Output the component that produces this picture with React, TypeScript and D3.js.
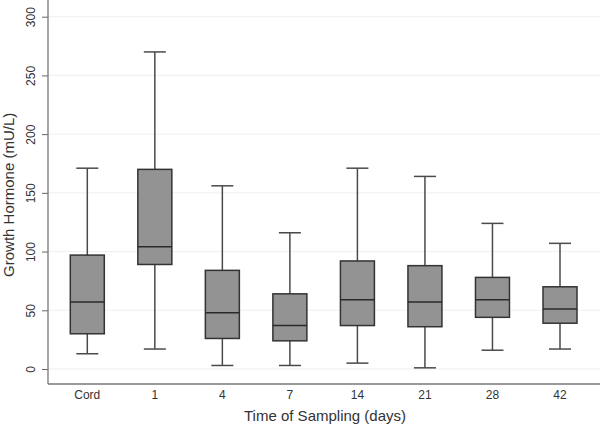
import React, { useEffect, useRef } from "react";
import * as d3 from "d3";

// sampling times (x categories)
const categories = ["Cord", "1", "4", "7", "14", "21", "28", "42"];
// five number summaries (mU/L)
const lowWhisker = [13, 17, 3, 3, 5, 1, 16, 17];
const q1 = [30, 89, 26, 24, 37, 36, 44, 39];
const median = [57, 104, 48, 37, 59, 57, 59, 51];
const q3 = [97, 170, 84, 64, 92, 88, 78, 70];
const highWhisker = [171, 270, 156, 116, 171, 164, 124, 107];
const yTicks = [0, 50, 100, 150, 200, 250, 300];

const W = 600;
const H = 426;
const FONT = "'Liberation Sans', Arial, Helvetica, sans-serif";

const App: React.FC = () => {
  const svgRef = useRef<SVGSVGElement>(null);

  useEffect(() => {
    const svg = d3.select(svgRef.current);
    svg.selectAll("*").remove();

    const left = 48;
    const bottom = 384;

    const x = d3.scalePoint<string>().domain(categories).range([87.3, 560]);
    const y = d3.scaleLinear().domain([0, 300]).range([369, 16.7]);

    // gridlines
    svg
      .append("g")
      .selectAll("line")
      .data(yTicks)
      .join("line")
      .attr("x1", left)
      .attr("x2", W)
      .attr("y1", (d) => y(d))
      .attr("y2", (d) => y(d))
      .attr("stroke", "#efefef")
      .attr("stroke-width", 1);

    // y axis
    const yAxis = svg
      .append("g")
      .attr("transform", `translate(${left},0)`)
      .call(d3.axisLeft(y).tickValues(yTicks).tickSize(6).tickFormat(d3.format("d")));
    yAxis.select(".domain").remove();
    yAxis.selectAll(".tick line").attr("stroke", "#666");
    yAxis
      .selectAll(".tick text")
      .attr("font-family", FONT)
      .attr("font-size", 12)
      .attr("fill", "#333")
      .attr("transform", "rotate(-90)")
      .attr("x", 0)
      .attr("y", -13)
      .attr("dy", 0)
      .attr("text-anchor", "middle");

    svg
      .append("line")
      .attr("x1", left)
      .attr("x2", left)
      .attr("y1", 0)
      .attr("y2", bottom)
      .attr("stroke", "#777")
      .attr("stroke-width", 1.3);
    svg
      .append("line")
      .attr("x1", left)
      .attr("x2", W)
      .attr("y1", bottom)
      .attr("y2", bottom)
      .attr("stroke", "#777")
      .attr("stroke-width", 1.3);

    // x labels
    svg
      .append("g")
      .selectAll("text")
      .data(categories)
      .join("text")
      .attr("x", (d) => x(d)!)
      .attr("y", 399)
      .attr("text-anchor", "middle")
      .attr("font-family", FONT)
      .attr("font-size", 12)
      .attr("fill", "#333")
      .text((d) => d);

    const boxHalf = 17;
    const capHalf = 11;
    const g = svg
      .append("g")
      .selectAll("g")
      .data(categories)
      .join("g")
      .attr("transform", (d) => `translate(${x(d)},0)`);

    // whiskers
    g.append("line")
      .attr("x1", 0)
      .attr("x2", 0)
      .attr("y1", (_, i) => y(highWhisker[i]))
      .attr("y2", (_, i) => y(lowWhisker[i]))
      .attr("stroke", "#4a4a4a")
      .attr("stroke-width", 1.5);
    g.append("line")
      .attr("x1", -capHalf)
      .attr("x2", capHalf)
      .attr("y1", (_, i) => y(highWhisker[i]))
      .attr("y2", (_, i) => y(highWhisker[i]))
      .attr("stroke", "#4a4a4a")
      .attr("stroke-width", 1.5);
    g.append("line")
      .attr("x1", -capHalf)
      .attr("x2", capHalf)
      .attr("y1", (_, i) => y(lowWhisker[i]))
      .attr("y2", (_, i) => y(lowWhisker[i]))
      .attr("stroke", "#4a4a4a")
      .attr("stroke-width", 1.5);

    // boxes
    g.append("rect")
      .attr("x", -boxHalf)
      .attr("width", boxHalf * 2)
      .attr("y", (_, i) => y(q3[i]))
      .attr("height", (_, i) => y(q1[i]) - y(q3[i]))
      .attr("fill", "#939393")
      .attr("stroke", "#333")
      .attr("stroke-width", 1.5);
    g.append("line")
      .attr("x1", -boxHalf)
      .attr("x2", boxHalf)
      .attr("y1", (_, i) => y(median[i]))
      .attr("y2", (_, i) => y(median[i]))
      .attr("stroke", "#2a2a2a")
      .attr("stroke-width", 1.5);

    // axis titles
    svg
      .append("text")
      .attr("x", (left + W) / 2 + 1)
      .attr("y", 421)
      .attr("text-anchor", "middle")
      .attr("font-family", FONT)
      .attr("font-size", 15)
      .attr("fill", "#333")
      .text("Time of Sampling (days)");
    svg
      .append("text")
      .attr("transform", `translate(14,${y(150) + 2}) rotate(-90)`)
      .attr("text-anchor", "middle")
      .attr("font-family", FONT)
      .attr("font-size", 15)
      .attr("fill", "#333")
      .text("Growth Hormone (mU/L)");
  }, []);

  return (
    <svg
      ref={svgRef}
      width={W}
      height={H}
      style={{ position: "absolute", left: 0, top: 0, background: "#fff" }}
    />
  );
};

export default App;
